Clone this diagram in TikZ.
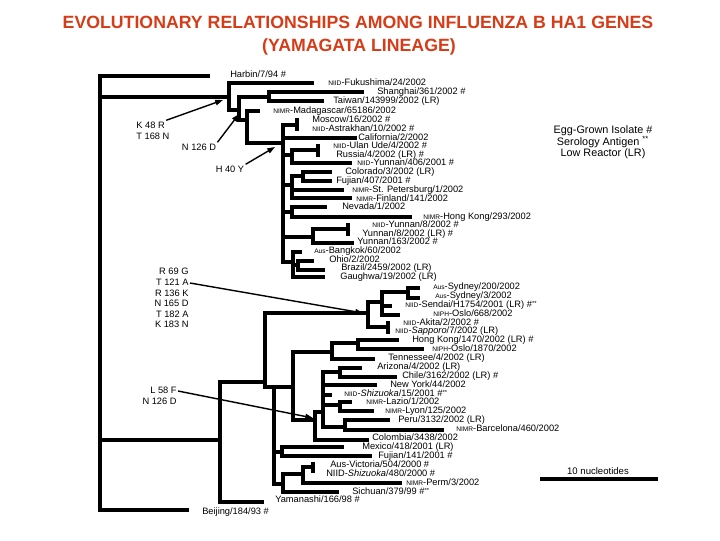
\documentclass[tikz,border=0pt]{standalone}
\usepackage{fontspec}
\setmainfont{Liberation Sans}
\usetikzlibrary{arrows.meta}
\definecolor{titlered}{RGB}{214,60,24}
% small source prefix (NIID, NIMR, NIPH, Aus)
\newcommand{\src}[1]{{\fontsize{4.7}{5}\selectfont #1}-}
% serology antigen mark
\newcommand{\serol}{\raisebox{1.1pt}{\fontsize{4.2}{4}\selectfont **}}

\begin{document}
\begin{tikzpicture}[x=0.025cm,y=-0.025cm,font=\fontsize{6.6}{7}\selectfont,
    branch/.style={line width=2.5pt,line cap=rect},
    taxon/.style={anchor=west,inner sep=0pt,text height=4.7pt,text depth=1.4pt},
    mutlab/.style={inner sep=0.8pt,text height=4.7pt,text depth=1.4pt},
    mutarrow/.style={-{Triangle[length=5.5pt,width=3.8pt]},line width=1pt},
    titletext/.style={font=\fontsize{12.6}{14}\selectfont\bfseries,text=titlered,inner sep=0pt},
    legendtext/.style={font=\fontsize{7.7}{9}\selectfont,inner sep=0pt}]
  \useasboundingbox (0,0) rectangle (720,540);

  % title
  \node[titletext] (title1) at (358,22) {EVOLUTIONARY RELATIONSHIPS AMONG INFLUENZA B HA1 GENES};
  \node[titletext] (title2) at (359,47) {(YAMAGATA LINEAGE)};

  % root
  \draw[branch] (208,76) -| (100,510) -- (187,510);
  \draw[branch] (100,97) -- (229,97);
  \draw[branch] (100,440) -- (220,440);

  % upper clade
  \draw[branch] (312,83) -| (229,110) -- (239,110);
  \draw[branch] (269,97) -| (239,120) -- (247,120);
  \draw[branch] (362,92) -| (269,101) -- (322,101);
  \draw[branch] (258,111) -| (247,143) -- (283,143);
  \draw[branch] (297,125) -| (283,262) -- (293,262);
  \draw[branch] (297,120) -- (297,129);
  \draw[branch] (283,138) -- (355,138);
  \draw[branch] (283,155) -- (292,155);
  \draw[branch] (318,150) -| (292,163) -- (350,163);
  \draw[branch] (318,146) -- (318,155);
  \draw[branch] (283,185) -- (292,185);
  \draw[branch] (303,176) -| (292,198) -- (350,198);
  \draw[branch] (292,190) -- (342,190);
  \draw[branch] (330,172) -| (303,181) -- (330,181);
  \draw[branch] (283,212) -- (292,212);
  \draw[branch] (325,207) -| (292,217) -- (410,217);
  \draw[branch] (283,237) -- (313,237);
  \draw[branch] (348,229) -| (313,243) -- (352,243);
  \draw[branch] (348,225) -- (348,234);
  \draw[branch] (300,252) -| (293,277) -- (323,277);
  \draw[branch] (293,265) -- (298,265);
  \draw[branch] (312,261) -| (298,270) -- (323,270);

  % lower clade
  \draw[branch] (265,382) -| (220,502) -- (262,502);
  \draw[branch] (368,313) -| (265,387) -- (293,387);
  \draw[branch] (382,302) -| (368,327) -- (388,327);
  \draw[branch] (388,323) -- (388,332);
  \draw[branch] (408,292) -| (382,315) -- (398,315);
  \draw[branch] (382,306) -- (390,306);
  \draw[branch] (418,288) -| (408,298) -- (418,298);
  \draw[branch] (274,387) -- (274,484) -- (283,484);
  \draw[branch] (274,452) -- (282,452);
  \draw[branch] (342,447) -| (282,456) -- (370,456);
  \draw[branch] (303,474) -| (283,492) -- (337,492);
  \draw[branch] (313,467) -| (303,483) -- (400,483);
  \draw[branch] (313,464) -- (313,471);
  \draw[branch] (332,352) -| (293,420) -- (315,420);
  \draw[branch] (358,343) -| (332,359) -- (373,359);
  \draw[branch] (397,340) -| (358,349) -- (422,349);
  \draw[branch] (323,412) -| (315,440) -- (367,440);
  \draw[branch] (340,372) -| (323,427) -- (345,427);
  \draw[branch] (360,368) -| (340,377) -- (395,377);
  \draw[branch] (323,385) -- (375,385);
  \draw[branch] (323,395) -- (330,395);
  \draw[branch] (323,405) -- (340,405);
  \draw[branch] (350,402) -| (340,411) -- (372,411);
  \draw[branch] (388,420) -| (345,430) -- (442,430);

  % taxa
  \node[taxon] (harbin) at (230,75) {Harbin/7/94 \#};
  \node[taxon] (fukushima) at (328,83) {\src{NIID}Fukushima/24/2002};
  \node[taxon] (shanghai) at (377,92) {Shanghai/361/2002 \#};
  \node[taxon] (taiwan) at (333,101) {Taiwan/143999/2002 (LR)};
  \node[taxon] (madagascar) at (273,111) {\src{NIMR}Madagascar/65186/2002};
  \node[taxon] (moscow) at (312,120) {Moscow/16/2002 \#};
  \node[taxon] (astrakhan) at (312,129) {\src{NIID}Astrakhan/10/2002 \#};
  \node[taxon] (california) at (358,138) {California/2/2002};
  \node[taxon] (ulanude) at (333,146) {\src{NIID}Ulan Ude/4/2002 \#};
  \node[taxon] (russia) at (336,155) {Russia/4/2002 (LR) \#};
  \node[taxon] (yunnanA) at (357,163) {\src{NIID}Yunnan/406/2001 \#};
  \node[taxon] (colorado) at (345,172) {Colorado/3/2002 (LR)};
  \node[taxon] (fujianA) at (336,181) {Fujian/407/2001 \#};
  \node[taxon] (stpete) at (352,190) {\src{NIMR}St. Petersburg/1/2002};
  \node[taxon] (finland) at (356,199) {\src{NIMR}Finland/141/2002};
  \node[taxon] (nevada) at (342,207) {Nevada/1/2002};
  \node[taxon] (hongkongA) at (423,217) {\src{NIMR}Hong Kong/293/2002};
  \node[taxon] (yunnanB) at (372,225) {\src{NIID}Yunnan/8/2002 \#};
  \node[taxon] (yunnanC) at (362,234) {Yunnan/8/2002 (LR) \#};
  \node[taxon] (yunnanD) at (357,242) {Yunnan/163/2002 \#};
  \node[taxon] (bangkok) at (314,251) {\src{Aus}Bangkok/60/2002};
  \node[taxon] (ohio) at (329,260) {Ohio/2/2002};
  \node[taxon] (brazil) at (341,268) {Brazil/2459/2002 (LR)};
  \node[taxon] (gaughwa) at (340,277) {Gaughwa/19/2002 (LR)};
  \node[taxon] (sydneyA) at (433,287) {\src{Aus}Sydney/200/2002};
  \node[taxon] (sydneyB) at (435,296) {\src{Aus}Sydney/3/2002};
  \node[taxon] (sendai) at (405,305) {\src{NIID}Sendai/H1754/2001 (LR) \#\serol};
  \node[taxon] (osloA) at (433,314) {\src{NIPH}Oslo/668/2002};
  \node[taxon] (akita) at (403,323) {\src{NIID}Akita/2/2002 \#};
  \node[taxon] (sapporo) at (395,331) {\src{NIID}\textit{Sapporo}/7/2002 (LR)};
  \node[taxon] (hongkongB) at (412,340) {Hong Kong/1470/2002 (LR) \#};
  \node[taxon] (osloB) at (432,349) {\src{NIPH}Oslo/1870/2002};
  \node[taxon] (tennessee) at (388,358) {Tennessee/4/2002 (LR)};
  \node[taxon] (arizona) at (377,367) {Arizona/4/2002 (LR)};
  \node[taxon] (chile) at (402,376) {Chile/3162/2002 (LR) \#};
  \node[taxon] (newyork) at (390,385) {New York/44/2002};
  \node[taxon] (shizuokaA) at (344,394) {\src{NIID}\textit{Shizuoka}/15/2001 \#\serol};
  \node[taxon] (lazio) at (366,402) {\src{NIMR}Lazio/1/2002};
  \node[taxon] (lyon) at (385,411) {\src{NIMR}Lyon/125/2002};
  \node[taxon] (peru) at (398,420) {Peru/3132/2002 (LR)};
  \node[taxon] (barcelona) at (456,429) {\src{NIMR}Barcelona/460/2002};
  \node[taxon] (colombia) at (372,438) {Colombia/3438/2002};
  \node[taxon] (mexico) at (362,447) {Mexico/418/2001 (LR)};
  \node[taxon] (fujianB) at (378,456) {Fujian/141/2001 \#};
  \node[taxon] (victoria) at (330,465) {Aus-Victoria/504/2000 \#};
  \node[taxon] (shizuokaB) at (326,474) {NIID-\textit{Shizuoka}/480/2000 \#};
  \node[taxon] (perm) at (406,483) {\src{NIMR}Perm/3/2002};
  \node[taxon] (sichuan) at (352,492) {Sichuan/379/99 \#\serol};
  \node[taxon] (yamanashi) at (275,500) {Yamanashi/166/98 \#};
  \node[taxon] (beijing) at (202,512) {Beijing/184/93 \#};

  % amino acid changes
  \node[mutlab,anchor=west] (k48r) at (135,126) {K 48 R};
  \node[mutlab,anchor=west] (t168n) at (135,137) {T 168 N};
  \node[mutlab] (n126dA) at (199,148) {N 126 D};
  \node[mutlab] (h40y) at (230,170) {H 40 Y};
  \node[mutlab,anchor=east] (r69g) at (190,272) {R 69 G};
  \node[mutlab,anchor=east] (t121a) at (190,283) {T 121 A};
  \node[mutlab,anchor=east] (r136k) at (190,294) {R 136 K};
  \node[mutlab,anchor=east] (n165d) at (190,304) {N 165 D};
  \node[mutlab,anchor=east] (t182a) at (190,315) {T 182 A};
  \node[mutlab,anchor=east] (k183n) at (190,325) {K 183 N};
  \node[mutlab,anchor=east] (l58f) at (178,391) {L 58 F};
  \node[mutlab,anchor=east] (n126dB) at (178,402) {N 126 D};

  \coordinate (hitA) at (223,100);
  \coordinate (hitB) at (239,114);
  \coordinate (hitC) at (275,147);
  \coordinate (hitD) at (363,313);
  \coordinate (hitE) at (313,418);
  \draw[mutarrow] (k48r.north east) -- (hitA);
  \draw[mutarrow] (n126dA.north east) -- (hitB);
  \draw[mutarrow] (h40y.north east) -- (hitC);
  \draw[mutarrow] (t121a.east) -- (hitD);
  \draw[mutarrow] (l58f.east) -- (hitE);

  % legend
  \node[legendtext] (legegg) at (603,131) {Egg-Grown Isolate \#};
  \node[legendtext] (legsero) at (603,142) {Serology Antigen \textsuperscript{**}};
  \node[legendtext] (leglr) at (603,154) {Low Reactor (LR)};

  % scale bar
  \node[inner sep=0pt,font=\fontsize{6.8}{8}\selectfont] (scalelab) at (598,471) {10 nucleotides};
  \coordinate (scaleL) at (540,479);
  \coordinate (scaleR) at (658,479);
  \draw[line width=2.5pt] (scaleL) -- (scaleR);
\end{tikzpicture}
\end{document}
